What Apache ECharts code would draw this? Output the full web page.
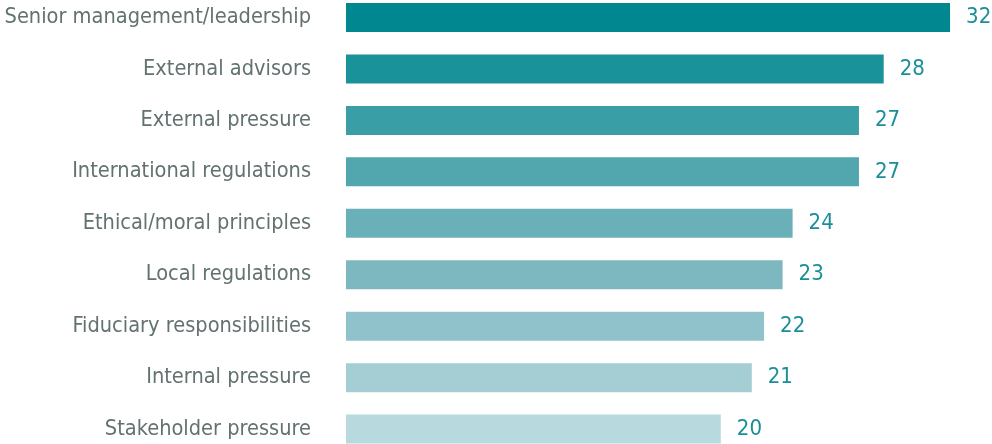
<!DOCTYPE html>
<html>
<head>
<meta charset="utf-8">
<style>html,body{margin:0;padding:0;background:#fff}#c{width:992px;height:444px}</style>
<script src="https://cdn.jsdelivr.net/npm/echarts@6/dist/echarts.min.js"></script>
</head>
<body>
<div id="c"></div>
<script>
const categories = [
  'Senior management/leadership',
  'External advisors',
  'External pressure',
  'International regulations',
  'Ethical/moral principles',
  'Local regulations',
  'Fiduciary responsibilities',
  'Internal pressure',
  'Stakeholder pressure'
];
const values = [31.96, 28.45, 27.14, 27.14, 23.63, 23.1, 22.12, 21.47, 19.83];
const barColors = ['#00878f', '#1a9299', '#3a9ea6', '#52a6ae', '#69b0b8', '#7db8c0', '#8fc2ca', '#a4ced4', '#b8d9de'];

const FONT = '"DejaVu Sans Condensed", Roboto, sans-serif';
const chart = echarts.init(document.getElementById('c'), null, {renderer: 'canvas'});
chart.setOption({
  animation: false,
  grid: {left: 346, right: 3.4, top: -8.2, bottom: -10.8, containLabel: false, outerBoundsMode: 'none'},
  xAxis: {type: 'value', min: 0, max: 34, show: false},
  yAxis: {
    type: 'category', data: categories, inverse: true,
    axisLine: {show: false}, axisTick: {show: false}, splitLine: {show: false},
    axisLabel: {margin: 35, fontFamily: FONT, fontSize: 21.6, color: '#627270'}
  },
  series: [{
    type: 'bar',
    barWidth: 29,
    data: values.map((v, i) => ({value: v, itemStyle: {color: barColors[i]}})),
    label: {
      show: true, position: 'right', distance: 16,
      fontFamily: FONT, fontSize: 22, color: '#1a8f97',
      formatter: p => Math.round(p.value)
    }
  }]
});
</script>
</body>
</html>
